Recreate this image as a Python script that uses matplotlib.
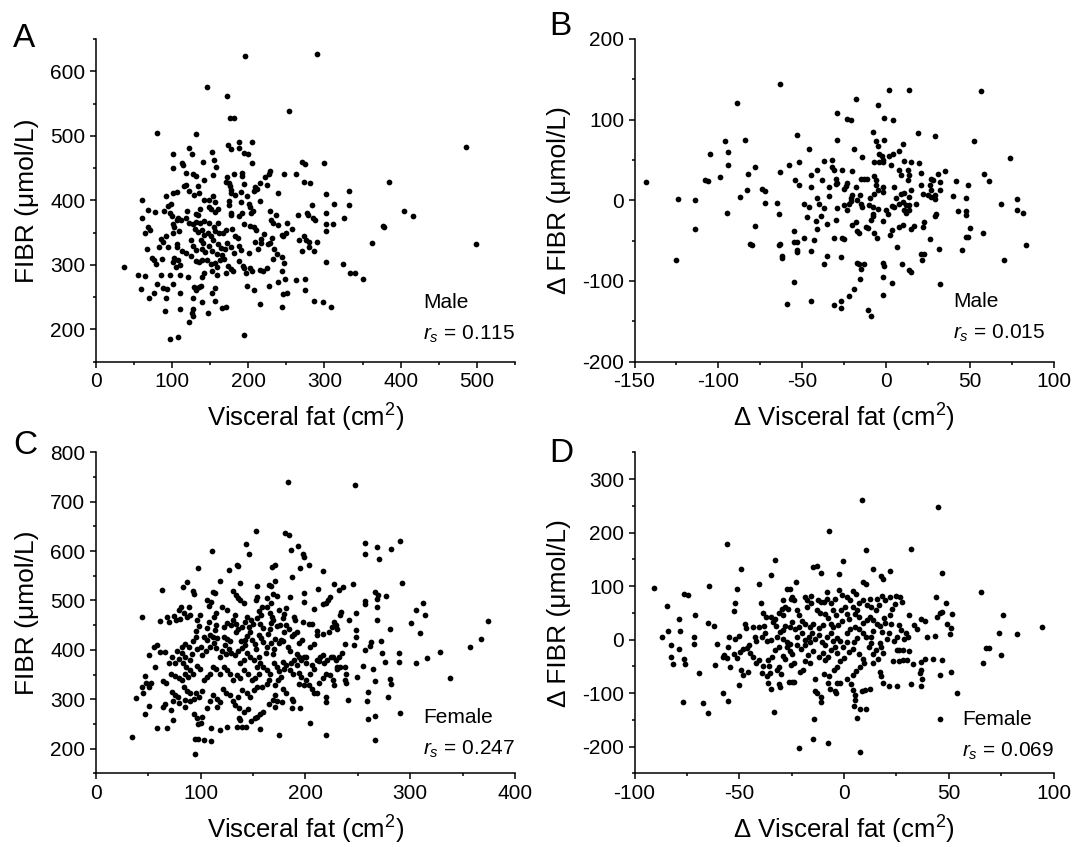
import matplotlib
matplotlib.use('Agg')
import matplotlib.pyplot as plt
from matplotlib.ticker import MultipleLocator
import numpy as np

plt.rcParams['font.family'] = ['Liberation Sans', 'DejaVu Sans']
plt.rcParams['mathtext.fontset'] = 'custom'
plt.rcParams['mathtext.rm'] = 'Liberation Sans'
plt.rcParams['mathtext.it'] = 'Liberation Sans:italic'
plt.rcParams['axes.unicode_minus'] = False

# panel A : male, visceral fat (cm2) vs FIBR (umol/L)
male_fat_fibr = np.array([
    (146, 576), (172, 561), (176, 528), (181, 528), (253, 539), (290, 627), (196, 623),
    (80, 504), (132, 502), (101, 472), (122, 481), (126, 472), (153, 475), (155, 463), (174, 485),
    (177, 480), (188, 491), (188, 481), (195, 474), (200, 471), (205, 490), (205, 458), (101, 450),
    (113, 458), (115, 454), (141, 459), (158, 451), (270, 459), (275, 457), (300, 458),
    (118, 442), (128, 440), (131, 437), (134, 422), (142, 432), (154, 439), (172, 436), (182, 440),
    (192, 442), (192, 437), (171, 428), (175, 427), (229, 445), (227, 440), (222, 436), (215, 427),
    (209, 420), (225, 423), (247, 441), (263, 440), (273, 428), (281, 427),
    (92, 406), (102, 411), (106, 413), (116, 422), (119, 424), (122, 414), (129, 409), (135, 411),
    (142, 401), (148, 400), (154, 406), (156, 397), (176, 422), (178, 416), (178, 412), (183, 409),
    (190, 413), (175, 399), (175, 393), (190, 397), (194, 425), (199, 406), (201, 394), (208, 414),
    (211, 418), (216, 399), (239, 411), (302, 410), (284, 393), (313, 394),
    (61, 400), (68, 385), (78, 382), (90, 383), (95, 391), (99, 395), (98, 381), (100, 375),
    (108, 372), (112, 369), (120, 383), (131, 379), (134, 377), (137, 387), (148, 390), (151, 386),
    (157, 382), (160, 386), (177, 381), (178, 377), (188, 375), (192, 380), (204, 380), (206, 383),
    (203, 389), (229, 383), (237, 378), (266, 378), (277, 380), (278, 378), (287, 370), (285, 373),
    (302, 380), (311, 364), (302, 363), (302, 352),
    (61, 372), (69, 358), (71, 354), (64, 350), (102, 363), (107, 369), (103, 358), (101, 350),
    (109, 353), (118, 373), (122, 365), (128, 364), (131, 366), (137, 365), (142, 368), (148, 365),
    (130, 355), (134, 351), (140, 354), (142, 347), (147, 350), (151, 345), (155, 358), (156, 353),
    (160, 365), (162, 349), (167, 350), (171, 354), (179, 355), (183, 344), (187, 341), (195, 364),
    (203, 360), (207, 358), (210, 354), (217, 340), (221, 348), (230, 370), (233, 365), (239, 361),
    (244, 346), (246, 344), (251, 365), (257, 355), (250, 350), (267, 339), (273, 344), (276, 338),
    (280, 336),
    (85, 340), (83, 327), (67, 324), (92, 345), (88, 335), (95, 327), (106, 333), (107, 327),
    (113, 321), (118, 319), (125, 339), (128, 329), (131, 323), (125, 314), (138, 338), (141, 334),
    (139, 324), (143, 320), (148, 329), (152, 322), (154, 338), (161, 333), (164, 326), (169, 324),
    (165, 315), (159, 317), (172, 334), (178, 327), (181, 319), (188, 329), (191, 323), (201, 318),
    (209, 336), (213, 324), (217, 334), (226, 332), (234, 324), (238, 317), (233, 309), (244, 312),
    (247, 303), (231, 341), (229, 334), (270, 322), (280, 328), (286, 321), (290, 336), (302, 305),
    (74, 311), (77, 307), (79, 301), (87, 309), (103, 311), (102, 305), (108, 307), (111, 300),
    (105, 296), (132, 306), (135, 304), (139, 308), (146, 307), (151, 301), (156, 303), (159, 297),
    (163, 308), (168, 309), (174, 298), (178, 294), (180, 290), (188, 306), (193, 298), (195, 295),
    (203, 295), (205, 290), (197, 288), (216, 292), (219, 291), (225, 295), (245, 290), (56, 284),
    (65, 282), (59, 263), (70, 248), (86, 285), (98, 284), (111, 284), (121, 281), (139, 281),
    (142, 288), (153, 290), (159, 285), (171, 287),
    (81, 270), (88, 264), (93, 263), (101, 271), (111, 256), (92, 248), (76, 256), (129, 265),
    (132, 263), (135, 265), (138, 267), (131, 261), (128, 248), (139, 243), (153, 256), (156, 264),
    (156, 244), (128, 232), (126, 225), (128, 221), (122, 212), (91, 228), (111, 231), (147, 225),
    (165, 233), (171, 235), (195, 192), (97, 185), (108, 188), (198, 267), (208, 261), (215, 240),
    (227, 267), (239, 273), (248, 278), (251, 256), (246, 255), (244, 234), (263, 277), (274, 278),
    (274, 261), (286, 244), (298, 242), (309, 234), (37, 297),
    (486, 483), (499, 333), (385, 429), (405, 383), (416, 376), (363, 334), (377, 360), (378, 358),
    (351, 278), (333, 287), (340, 287), (325, 301), (332, 393), (332, 414), (326, 372),
])

# panel B : male, change in visceral fat vs change in FIBR
male_delta = np.array([
    (-143, 23), (-125, -74), (-124, 2), (-114, 1), (-114, -36), (56.5, 135), (52.6, 74), (58.7, 33),
    (61.5, 24), (57.9, -40), (50.4, -34), (49.2, -45), (48, -46), (74.3, 53), (68.6, -4), (78, 2),
    (78.3, -12), (82, -16), (83.6, -55), (70.2, -74), (45.5, -62), (43, -13), (47.5, -13), (48, -18),
    (-63, 144), (-89, 121), (-18, 126), (2, 137), (14, 137), (-4.5, 118), (-29, 108), (-23, 101),
    (-21, 99), (-1, 102), (4, 100), (19, 83), (29, 80), (-8, 85), (-53, 81), (-29, 75), (-6, 74),
    (-1, 75), (-96, 73), (-84, 75), (-105, 57), (-94, 60), (-94, 44), (-108, 25), (-106, 24),
    (-99, 29), (-46, 63), (-4.5, 67), (-19, 64), (10, 70), (-14, 54), (-4, 58), (-2.5, 55), (-2, 50),
    (-4, 48), (-1.5, 47), (-7, 47), (2, 55), (4, 57), (8, 61), (3, 44), (11, 49), (15, 48), (20, 46),
    (-32, 50), (-37, 49), (-52, 47), (-58, 44), (-78, 41), (-63, 35), (-82, 32), (-41, 37), (-32, 41),
    (-31, 37), (-26, 37), (-20, 36), (-15, 26), (-13, 26), (-11.5, 27), (-7, 30), (-6, 25), (8, 37),
    (9, 31), (13, 37), (14, 31), (13, 25), (21, 34), (27, 27), (28, 25), (31, 32), (35, 36), (42, 24),
    (49, 19), (-54, 25), (-52, 19), (-45, 31), (-38, 25), (-45, 17), (-30, 27), (-30, 20), (-34, 17),
    (-34, 5), (-29, 22), (-24, 18), (-25, 14), (-23, 21), (-18, 17), (-20, 7), (-6, 19), (-5, 12.5),
    (-2, 16), (-1.5, 10), (5, 17), (9, 8), (11, 9), (15, 13), (21, 19.5), (26, 19), (27, 13),
    (29.5, 7), (32, 12.5), (32, 23), (27, 4), (29, 2), (40, 5), (48, 3), (-74, 14.5), (-72, 11),
    (-83, 13), (-87, 4), (-95, -16), (-78, -32), (-72, -3), (-65, -3), (-64, -16.5), (-49, -5),
    (-46, -8), (-41, 2.5), (-40, -4), (-37, -10), (-47, -21), (-42, -26), (-41, -36), (-39, -19),
    (-29, -9), (-25, -6), (-22, -4), (-23, -12), (-21, -1), (-21, 2.5), (-17, 1), (-15, -4), (-14, -8),
    (-15.5, 6), (-9.5, 2.5), (-7, 8), (-10, -6), (-8, -8), (-5, -11), (-7.5, -17), (-8, -20), (0, -12),
    (1, -16.5), (3.6, -7), (5, -8), (6, 2.5), (8, -4), (10, -1.6), (11, -12), (12, -16), (14, -12),
    (14, -6), (12, -6), (14, 4), (18, -5), (22, 7.5), (25, 6), (29, -19), (30, -17), (23, -26.5),
    (22, -33), (17, -32), (15, -35), (10, -30), (8, -33), (3.6, -37), (2.4, -43), (-2, -26), (-9, -25),
    (-12, -33), (-11, -34), (-17, -38), (-16, -41), (-20, -30), (-18, -26.5), (-30, -25), (-26, -47),
    (-25, -48), (-31, -47), (-7, -40.5), (-5.5, -47), (6.4, -58), (26, -48), (31.5, -60), (21, -67),
    (21.5, -74), (23, -66), (9.6, -79), (14, -86), (15, -89), (3.6, -102), (32, -103.5), (-1.6, -78),
    (-1, -81), (-1.6, -95), (-1.6, -117.5), (-15.5, -97), (-17.5, -78), (-16, -79.5), (-13, -79),
    (-15, -85), (-19, -110), (-22, -118), (-27, -125), (-27, -133), (-31, -130), (-45, -125),
    (-59, -128), (-55, -101), (-11, -136), (-9, -143), (-37, -79), (-35, -69), (-27, -70), (-45, -63),
    (-53, -62), (-53, -64.5), (-62, -69), (-62, -71), (-64, -55), (-63, -54), (-81, -54), (-80, -56),
    (-55, -52), (-53, -52), (-49, -47), (-43, -49), (-55, -38), (-35, -29),
])

# panel C : female, visceral fat (cm2) vs FIBR (umol/L)
female_fat_fibr = np.array([
    (153, 641), (181, 637), (184, 633), (143, 614), (146, 595), (111, 601), (186, 602), (193, 611),
    (198, 595), (199, 589), (203, 571), (195, 566), (217, 560), (134.5, 572), (136, 570), (127.5, 562),
    (98, 566), (168.5, 568), (171, 572), (187, 547), (87, 538), (83, 528), (93, 520), (94, 514),
    (63, 521), (119, 539), (138, 536), (154, 529), (165, 532), (167.5, 529), (171, 540), (169.5, 514),
    (112, 518), (114, 516), (131, 520), (134, 512), (136, 505), (138, 501), (141, 495), (154, 508),
    (153, 501), (163, 504), (173, 509), (185, 508), (199, 516), (199, 497), (212, 524), (227, 533),
    (232, 522), (236, 528), (245, 533), (223.5, 506), (222, 501), (217, 493), (220, 495), (208, 482),
    (257, 499), (257, 493), (248, 475), (242, 460), (234, 477), (233, 470), (227, 457), (229, 450),
    (225, 447), (230, 443), (223, 436), (217, 432), (211, 439), (211, 431), (206, 452), (248, 441),
    (248, 425), (246, 410), (238, 412), (235, 393), (226, 386), (229, 379), (232, 386), (216.5, 390),
    (213, 378), (208, 412), (204, 406), (197, 420), (194, 413), (201, 386), (192, 392), (194, 385),
    (185, 398), (183, 406), (179, 417), (174.5, 413), (176.5, 420), (171, 421), (187, 429), (189, 433),
    (192, 436), (182, 450), (184, 443), (180, 437), (173, 448), (176, 451), (167.5, 455), (198, 456),
    (203, 452), (189, 467), (190, 460), (179, 464), (180, 472), (182, 485), (174.5, 481), (166, 474),
    (168, 467), (169, 460), (163, 487), (167, 494), (158.6, 487), (155.5, 479), (157.4, 470),
    (153.6, 464), (148.5, 460), (150.4, 452), (144, 467), (142, 457), (140, 447), (146.6, 445.5),
    (147, 437), (144, 428), (142, 420), (149, 420), (152, 412), (153, 401), (155.5, 431), (157.4, 423),
    (160, 416), (163, 405), (162.5, 393), (167, 414.5), (170, 402), (169, 392), (164, 433),
    (166, 441.5), (160, 444), (157, 452), (133, 470.5), (131, 460), (134, 452), (136, 443), (134, 436),
    (129, 450), (125, 455), (122, 447), (125.6, 481), (120.5, 487), (115, 474), (113, 466), (115, 450),
    (114, 440), (108, 457), (106, 444), (110, 497.5), (106, 501), (108, 489), (99.5, 470.5), (97, 460),
    (99, 448), (96, 439), (90, 471), (87, 466), (84, 474), (81, 487), (79, 481), (80, 463), (77, 460),
    (75, 468.5), (68, 467), (70, 457), (61, 459), (44.5, 467), (89, 487), (96, 427), (103, 427),
    (106, 420), (109, 431), (112, 427), (92.5, 417), (89, 406), (85.5, 412), (82, 406), (78, 398),
    (82, 393), (85.5, 386), (92, 392), (90, 379), (97, 401), (100, 406), (101, 389), (105, 397),
    (109, 406), (113, 413), (115, 404), (116, 423), (122, 427), (125, 421), (128, 417), (123, 409),
    (127, 402), (120, 398), (124, 392), (119, 386), (129, 393), (133, 389), (136, 398), (140, 404),
    (139, 417), (142, 409), (144, 393), (147, 386), (151, 379), (141, 379), (138, 373), (156, 386),
    (157, 373), (154, 366), (160, 366), (163, 359), (166, 351), (170, 373), (173, 366), (174.5, 358),
    (179, 375), (182, 369), (180, 360.5), (186, 373), (189, 379), (192, 369), (195.5, 379), (199, 386),
    (201, 373), (206, 370), (208, 360.5), (204, 352), (211, 379), (214, 386), (218, 373), (221, 379),
    (224, 386), (230, 364.5), (233, 366), (238, 366), (239, 352), (237.5, 339), (239, 332), (249, 346),
    (255, 367), (260, 315), (260, 259), (204, 252.5), (220, 227), (174.5, 227), (185, 359),
    (188.5, 352), (194, 354), (196, 346), (201, 339), (203, 328), (206, 321), (208, 312), (213, 333.5),
    (217, 342), (220, 352), (223.5, 350), (226, 338), (227, 329), (230, 360.5), (220, 305), (220, 295),
    (211, 313), (194, 331), (199, 328), (187, 301), (188.5, 296), (195, 282), (187, 282), (178, 294),
    (181.5, 313), (179, 320), (171, 308.5), (169, 298), (165, 290), (171, 328), (174, 339),
    (176.5, 346), (165, 339), (163, 331), (159, 325), (155.5, 352), (152, 344), (149, 339), (145, 352),
    (141.5, 359), (138, 344), (134.5, 350), (131, 339), (128, 352), (125, 359), (122, 366),
    (118.6, 352), (115, 360.5), (112, 366), (109, 352), (106.5, 346), (103, 339), (99.5, 360.5),
    (97, 367), (93, 352), (90, 359), (86, 366), (83.6, 373), (79, 381), (76, 373), (73, 386),
    (69.6, 374), (66, 396), (61, 396), (58, 409), (55.6, 406), (51, 389.5), (57, 366), (47, 347),
    (48, 332), (50.5, 325), (53, 333.5), (44, 325), (45, 313), (47, 271), (38, 302), (50.5, 286),
    (58, 242), (68, 242), (64.5, 285), (66, 290), (64.5, 336), (67, 332), (71.5, 352), (76, 348),
    (79, 343), (82, 339), (85.5, 352), (88, 346), (73, 315), (76, 309), (78.5, 305), (74, 296),
    (72, 278), (74, 258), (79, 292), (84, 325), (87, 317), (90, 312), (85.5, 298), (85, 285), (90, 296),
    (94, 301), (96, 312), (99, 305), (101, 316), (94, 271), (97, 261), (98, 250), (101, 265),
    (100, 252.5), (106.5, 282), (109, 297), (112, 309), (116, 301), (118.6, 294), (116, 285),
    (110, 242), (118.6, 238), (125, 244), (121, 320), (124, 312), (128, 308), (131, 297), (133, 289),
    (136, 305), (139.6, 319), (144, 313), (147, 305), (151, 319), (154, 325), (136.4, 282), (141, 275),
    (145, 280), (136.4, 261), (137.6, 258), (143, 243), (139.6, 243), (134.5, 243), (153.6, 265),
    (156.7, 271), (160, 274), (148, 256.5), (151.6, 261), (156.7, 239), (170.7, 285), (172.6, 296),
    (94.4, 219), (98, 219), (103, 217), (110, 216), (94.4, 190), (34.3, 224), (257, 616), (257, 595),
    (241, 298), (257, 399), (259, 297),
    (183, 739), (247, 733), (268, 609), (270.5, 583), (282, 605), (290, 621), (292, 536),
    (266, 517.5), (269, 511.5), (277, 510), (268, 503), (268, 486), (268, 459.5), (281, 443),
    (272, 418), (273, 393.5), (276, 375), (289, 393.5), (289, 375), (281, 341), (282, 331), (265, 361),
    (266, 336), (279, 304), (266, 267), (266, 218), (290, 273), (301, 455), (306, 480), (312, 494),
    (314, 471), (309, 435), (306, 373), (316.5, 383), (328, 395.5), (338, 342), (357, 406),
    (368, 422.5), (374, 459), (263, 416), (262, 407),
])

# panel D : female, change in visceral fat vs change in FIBR
female_delta = np.array([
    (-90.6, 96), (-84.5, 63), (-86.7, 5.6), (-84, 15.5), (-82.8, -11), (-82.8, -32), (-81.5, -45),
    (-79, 38.5), (-78.5, 15.5), (-79, -17), (-76.4, 84.5), (-74.7, 83), (-76.4, -36), (-76, -46),
    (-76.7, -117), (-71.8, 5.6), (-71.5, -7.5), (-71, 46), (-69, -63), (76, 45), (74, 12), (82.5, 11),
    (94.7, 24), (67.8, -15), (69.4, -15), (75, -28),
    (8.7, 260), (44.7, 248), (-7.3, 202), (-56, 179), (10.5, 167), (32, 170), (-33, 149), (-0.5, 147),
    (-49, 131), (-14.6, 135), (-13, 137.5), (-11, 125), (-2.4, 122.5), (13.7, 132), (21.8, 128),
    (9.2, 107.5), (10.3, 104), (17.8, 119), (18.6, 112.5), (46.9, 124), (-35, 120), (-64.3, 101),
    (-51, 94), (-40.4, 103), (-23, 108), (-27.4, 95), (-25.8, 95), (-29.3, 74), (-25.5, 75),
    (-29.6, 58), (-39.8, 68), (-52.2, 68), (-52.5, 54), (-47.4, 29), (-46.8, 21.6), (-62, 25),
    (-65, 31.5), (-43.6, 24), (-40.4, 24), (-38.2, 25), (-38.5, 49), (-37.2, 43), (-34.7, 43),
    (-32.8, 38), (-34, 33), (-32.5, 25), (-31, 49), (-29.3, 46.5), (-28.3, 60), (-26.6, 56.5),
    (-24.8, 80), (-24, 74), (-18.5, 79), (-17.5, 74), (-16, 81), (-22.6, 55), (-21.6, 46.5), (-20, 35),
    (-18.5, 30), (-24.8, 33), (-25.8, 24), (-28, 25), (-29, 18), (-30.5, 14), (-31.8, 5.4),
    (-34.7, -1), (-37, -3.3), (-37.5, 11.6), (-39, 5.4), (-42.3, 5.4), (-42, -2), (-45.5, -9.6),
    (-46.5, -16), (-50, 6.6), (-52, 1.6), (-54.7, 5.4), (-55.4, -13), (-60.5, -9), (-57.3, -28),
    (-56, -34.5), (-58, -32), (-52.5, -27), (-51, -34.5), (-49.6, -23), (-48, -18), (-61.4, -48),
    (-54.4, -51), (-49.3, -57), (-48.4, -67), (-45.8, -61), (-50, -85.6), (-67.5, -119), (-65, -137),
    (-57.6, -100.5), (-55.4, -115), (-45, -26), (-43.3, -32), (-42, -44.5), (-40.4, -38), (-39, -63),
    (-37, -69), (-35.3, -62), (-36.3, -81), (-35, -93), (-33.4, -135), (-32, -57), (-31, -51),
    (-30, -64), (-29.3, -31), (-28, -36), (-26, -22), (-24.8, -27), (-24, -44.5), (-25.5, -48),
    (-26.4, -79), (-25, -80), (-24, -79), (-31, -84), (-30.5, -88), (-21, -61), (-19.4, -57),
    (-18.5, -41), (-16.2, -44.5), (-17, -28), (-14.6, -21), (-12, -33), (-10, -26), (-13.7, -73),
    (-13.7, -95.5), (-12.7, -99), (-11, -107), (-10.8, -117), (-7.6, -81), (-6.7, -93), (-4.5, -97),
    (-3.8, -99), (-3.5, -82), (-1.9, -81), (-9.6, -64), (-7.3, -69), (-5, -57), (-3.2, -51),
    (-1.9, -41), (0, -34.5), (2.2, -23), (4.1, -18), (4.8, -4.6), (6.4, 3), (7.3, -27), (8.9, -37),
    (9.5, -44.5), (7.6, -51), (5.7, -59), (4.1, -67), (1.3, -73), (3.2, -84), (4.5, -94), (5.1, -103),
    (5.4, -113), (4.8, -125), (6.4, -147), (7.6, -130), (8.6, -97), (10.2, -94), (12.4, -93),
    (10.5, -129), (-14.3, -148), (-21.6, -203), (-15, -186), (-7.6, -193), (7.6, -210), (17.2, -61),
    (17.8, -69), (14, -44.5), (16.2, -36), (18.8, -82), (21.3, -86), (25.5, -87), (31.8, -83),
    (36.9, -86), (37.2, -74), (36.3, -63), (36.9, -57), (45.8, -66), (51.2, -61), (54.1, -100.5),
    (32.8, -46), (36.9, -42), (28.3, -38), (29.9, -38), (23.5, -39.5), (26.4, -41), (25.1, -19.5),
    (26.4, -19.5), (28, -19.5), (31.2, -21), (28.6, 1.6), (30.5, 5.4), (29.6, 13), (27.4, 18),
    (25.1, 5.4), (23.9, -2), (21.3, 11.6), (20.4, 0.4), (18.1, 14), (17.2, -5.8), (18.8, -26),
    (17.8, -13), (15.3, -19.5), (14, -27), (12.7, -7), (11.8, -14.5), (13, 5.4), (14, 15.4),
    (15.6, 29), (17.2, 25), (19.1, 40), (19.7, 31.5), (22.6, 30), (26.1, 28), (21.9, 46.5),
    (22.9, 58), (24.5, 66), (26.7, 79), (27.7, 71), (24.8, 81), (18.1, 81), (15.6, 75), (12.4, 76),
    (9.2, 74), (7.3, 69), (10.8, 64), (13, 60), (4.1, 61), (6, 55), (2.9, 74), (1.3, 80), (4.5, 90),
    (5.7, 85), (-2.2, 92.6), (-1, 82.6), (-4.1, 75), (-6.1, 68), (-8.3, 89), (-8, 75), (-9.6, 70),
    (-11, 70), (-12.4, 74), (-15.9, 68), (-17.5, 60), (-13.1, 55), (-11.5, 49), (-9.2, 48),
    (-7.6, 40), (-5.4, 55), (-3.8, 46.5), (-1.6, 55), (0.3, 61), (1.3, 48), (2.5, 39), (-1, 34),
    (-2.9, 28), (-6.4, 29), (-5.1, 23), (-10.2, 28), (-12.1, 21.6), (-14.6, 30), (-16.2, 24),
    (-15.3, 13), (-16.9, 5.4), (-18.5, -1), (-20, 11.6), (-22.3, 5.4), (-23.2, 20), (-21.6, 23),
    (-29, 1.6), (-27, -4.6), (-31.2, -13), (-32.8, -19.5), (-34.4, -32), (-36.3, -38), (-36, -49),
    (-38.8, -49), (-27.4, -13), (-25.8, -8.3), (-22.3, -11), (-20.7, -17), (-18.5, -9.6),
    (-16.2, -4.6), (-13.7, 1.6), (-11.8, 8), (-10.5, -4.6), (-8.9, -11), (-8.3, 5.4), (-6.4, 11.6),
    (-5.1, -2), (-3.5, 3), (-1.9, -2), (-4.5, -13), (-6.4, -19.5), (-7.6, -32), (-9.2, -38),
    (-3.5, -26), (-0.3, -13), (1.3, -4.6), (9.2, 11.6), (10.5, 4), (7, 19), (5.4, 24), (2.9, 20),
    (1.3, 11.6), (8.9, 31.5), (10.8, 36.5), (12.4, 43), (14, 36.5), (7.3, 43), (5.4, 48), (15.3, 55),
    (16.9, 64), (19.7, 74), (21.9, 79), (31.2, 45), (33.4, 27), (35, 20), (36.6, 39), (38.8, 35),
    (39.8, 4), (43.3, 6.6), (44.2, 43), (45.8, 49), (43.9, 79), (48.7, 69), (46.8, 51.5), (49.3, 30),
    (50.9, 21.6), (50.6, 10), (51.5, 48), (38.8, -37), (42.3, -37), (46.8, -38), (66.2, -43),
    (65.5, 89.5), (45.8, -149),
])

panel_letters = ['A', 'B', 'C', 'D']
sex_labels = ['Male', 'Male', 'Female', 'Female']
rs_values = ['0.115', '0.015', '0.247', '0.069']
x_labels = ['Visceral fat (cm$^2$)', '\u0394 Visceral fat (cm$^2$)',
            'Visceral fat (cm$^2$)', '\u0394 Visceral fat (cm$^2$)']
y_labels = ['FIBR (\u03bcmol/L)', '\u0394 FIBR (\u03bcmol/L)',
            'FIBR (\u03bcmol/L)', '\u0394 FIBR (\u03bcmol/L)']

fig = plt.figure(figsize=(10.72, 8.47), dpi=100)

positions = [[0.0893, 0.573, 0.3911, 0.381], [0.5919, 0.573, 0.3909, 0.381],
             [0.0893, 0.087, 0.3911, 0.379], [0.5919, 0.087, 0.3909, 0.379]]
limits = [((0, 550), (150, 650)), ((-150, 100), (-200, 200)),
          ((0, 400), (150, 800)), ((-100, 100), (-250, 350))]
steps = [(100, 100), (50, 100), (100, 100), (50, 100)]
datasets = [male_fat_fibr, male_delta, female_fat_fibr, female_delta]
letter_pos = [(0.012, 0.955), (0.512, 0.969), (0.012, 0.474), (0.512, 0.464)]
text_pos = [(0.78, 0.182, 0.084), (0.761, 0.1875, 0.088),
            (0.781, 0.174, 0.074), (0.781, 0.169, 0.068)]

for i in range(4):
    ax = fig.add_axes(positions[i])
    d = datasets[i]
    ax.scatter(d[:, 0], d[:, 1], s=17, c='black', linewidths=0, zorder=3)
    ax.set_xlim(limits[i][0])
    ax.set_ylim(limits[i][1])
    ax.xaxis.set_major_locator(MultipleLocator(steps[i][0]))
    ax.xaxis.set_minor_locator(MultipleLocator(steps[i][0] / 2))
    ax.yaxis.set_major_locator(MultipleLocator(steps[i][1]))
    ax.yaxis.set_minor_locator(MultipleLocator(steps[i][1] / 2))
    ax.spines['top'].set_visible(False)
    ax.spines['right'].set_visible(False)
    for s in ['left', 'bottom']:
        ax.spines[s].set_linewidth(1.1)
    ax.tick_params(which='major', direction='out', length=4.5, width=1.1, labelsize=15, pad=3)
    ax.tick_params(which='minor', direction='out', length=2.5, width=1.1)
    ax.set_xlabel(x_labels[i], fontsize=18.5, labelpad=8)
    ax.set_ylabel(y_labels[i], fontsize=19, labelpad=8)
    tx, ty1, ty2 = text_pos[i]
    ax.text(tx, ty1, sex_labels[i], transform=ax.transAxes, fontsize=15, ha='left', va='center')
    ax.text(tx, ty2, '$r_s$ = ' + rs_values[i], transform=ax.transAxes, fontsize=15,
            ha='left', va='center')
    fig.text(letter_pos[i][0], letter_pos[i][1], panel_letters[i], fontsize=24,
             ha='left', va='center')

fig.savefig('out.png', dpi=100)
